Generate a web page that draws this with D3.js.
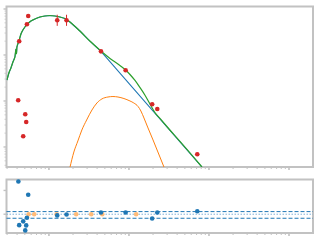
<!DOCTYPE html>
<html>
<head>
<meta charset="utf-8">
<script src="https://cdn.jsdelivr.net/npm/d3@7"></script>
<style>
  body { margin: 0; background: #fff; }
  svg { display: block; }
</style>
</head>
<body>
<div id="chart"></div>
<script>
// observed points (red) with flux errors
var obsX = [0.551, 0.531, 0.425, 1.27, 1.66, 4.47, 9.09, 19.5, 22.6, 71.4, 0.413, 0.506, 0.520, 0.477];
var obsY = [704, 465, 199, 568, 568, 120, 46.5, 8.48, 6.70, 0.694, 10.4, 5.14, 3.50, 1.71];
var obsLo = [704, 465, 199, 430, 430, 120, 46.5, 8.48, 6.70, 0.694, 10.4, 5.14, 3.50, 1.71];
var obsHi = [704, 465, 199, 750, 750, 120, 46.5, 8.48, 6.70, 0.694, 10.4, 5.14, 3.50, 1.71];

// total model (green)
var totalX = [0.299, 0.316, 0.335, 0.355, 0.376, 0.387, 0.393, 0.398, 0.422, 0.447, 0.473, 0.501, 0.546, 0.596,
  0.668, 0.772, 0.891, 1.03, 1.19, 1.37, 1.58, 1.83, 2.44, 3.25, 4.47, 5.79, 7.72, 9.09, 10.3, 11.9, 13.7, 15.8,
  18.3, 21.1, 24.4, 32.5, 43.4, 57.9, 81.7];
var totalY = [28.6, 40.6, 52.2, 70.4, 90.5, 135, 105, 149, 201, 286, 349, 406, 484, 548,
  606, 670, 704, 722, 704, 670, 621, 522, 332, 201, 122, 84.0, 59.1, 47.2, 37.7, 27.9, 19.7, 13.5,
  8.61, 5.62, 4.17, 2.34, 1.32, 0.741, 0.367];

// first component (blue)
var compAX = [0.299, 0.316, 0.335, 0.355, 0.376, 0.387, 0.393, 0.398, 0.422, 0.447, 0.473, 0.501, 0.546, 0.596,
  0.668, 0.772, 0.891, 1.03, 1.19, 1.37, 1.58, 1.83, 2.44, 3.25, 4.47, 81.7];
var compAY = [28.6, 40.6, 52.2, 70.4, 90.5, 135, 105, 149, 201, 286, 349, 406, 484, 548,
  606, 670, 704, 722, 704, 670, 621, 522, 332, 201, 120, 0.367];

// second component (orange)
var compBX = [1.83, 2.05, 2.30, 2.58, 2.96, 3.45, 3.98, 4.60, 5.46, 6.31, 7.29, 8.66, 10.3, 11.5, 13.0,
  14.1, 15.4, 17.3, 20.0, 23.0, 27.6];
var compBY = [0.358, 0.778, 1.35, 2.34, 3.86, 6.37, 9.05, 11.1, 12.2, 12.5, 12.2, 11.3, 10.0, 9.05, 7.59,
  6.06, 4.27, 2.59, 1.42, 0.778, 0.355];

// residuals
var resX = [0.415, 0.551, 0.425, 0.477, 0.531, 0.520, 0.506, 1.27, 1.66, 4.47, 9.09, 19.5, 22.6, 71.4];
var resY = [1.375, 0.82, -0.46, -0.30, -0.15, -0.47, -0.68, -0.05, -0.01, 0.07, 0.07, -0.18, 0.07, 0.125];
var limX = [0.557, 0.655, 1.25, 2.19, 3.38, 4.64, 12.3];
var limY = [0, 0, 0, 0, 0, 0, 0];
var bandLevels = [0.11, 0, -0.17];
var resTicks = [0, 1];

var width = 320, height = 240;
var left = 6.5, right = 313;
var top1 = 6.5, bot1 = 167, top2 = 179.5, bot2 = 233;
var gray = "#c2c2c2";

var svg = d3.select("#chart").append("svg")
  .attr("width", width)
  .attr("height", height);

var x = d3.scaleLog().domain([0.295, 1995]).range([left, right]);
var y = d3.scaleLog().domain([0.367, 1133]).range([bot1, top1]);
var yr = d3.scaleLinear().domain([-0.79, 1.46]).range([bot2, top2]);

svg.append("clipPath").attr("id", "clip1")
  .append("rect").attr("x", left).attr("y", top1)
  .attr("width", right - left).attr("height", bot1 - top1);

// log ticks (major + minor)
function logTicks(scale) {
  var d = scale.domain(), out = [];
  var lo = Math.floor(Math.log10(d[0])), hi = Math.ceil(Math.log10(d[1]));
  for (var e = lo; e <= hi; e++) {
    for (var k = 1; k < 10; k++) {
      var v = k * Math.pow(10, e);
      if (v >= d[0] && v <= d[1]) out.push({v: v, major: k == 1});
    }
  }
  return out;
}

function drawXTicks(yy) {
  svg.append("g").selectAll("line")
    .data(logTicks(x))
    .enter().append("line")
      .attr("x1", function(d) { return x(d.v); })
      .attr("x2", function(d) { return x(d.v); })
      .attr("y1", yy)
      .attr("y2", function(d) { return yy + (d.major ? 3 : 2); })
      .attr("stroke", gray)
      .attr("stroke-width", function(d) { return d.major ? 1.6 : 1; });
}

drawXTicks(bot1);
drawXTicks(bot2);

svg.append("g").selectAll("line")
  .data(logTicks(y))
  .enter().append("line")
    .attr("x1", left)
    .attr("x2", function(d) { return left - (d.major ? 3 : 2); })
    .attr("y1", function(d) { return y(d.v); })
    .attr("y2", function(d) { return y(d.v); })
    .attr("stroke", gray)
    .attr("stroke-width", function(d) { return d.major ? 1.4 : 0.8; });

svg.append("g").selectAll("line")
  .data(resTicks)
  .enter().append("line")
    .attr("x1", left)
    .attr("x2", left - 3)
    .attr("y1", function(d) { return yr(d); })
    .attr("y2", function(d) { return yr(d); })
    .attr("stroke", gray)
    .attr("stroke-width", 1.4);

// frames
[[top1, bot1], [top2, bot2]].forEach(function(p) {
  svg.append("rect")
    .attr("x", left).attr("y", p[0])
    .attr("width", right - left).attr("height", p[1] - p[0])
    .attr("fill", "none")
    .attr("stroke", gray)
    .attr("stroke-width", 2);
});

// model curves
var plot = svg.append("g").attr("clip-path", "url(#clip1)");

var line = d3.line()
  .x(function(d) { return x(d[0]); })
  .y(function(d) { return y(d[1]); });

var smooth = d3.line()
  .curve(d3.curveMonotoneX)
  .x(function(d) { return x(d[0]); })
  .y(function(d) { return y(d[1]); });

plot.append("path")
  .attr("d", smooth(d3.zip(compBX, compBY)))
  .attr("fill", "none").attr("stroke", "#ff7f0e").attr("stroke-width", 1);

plot.append("path")
  .attr("d", line(d3.zip(compAX, compAY)))
  .attr("fill", "none").attr("stroke", "#1f77b4").attr("stroke-width", 1.1);

plot.append("path")
  .attr("d", smooth(d3.zip(totalX, totalY)))
  .attr("fill", "none").attr("stroke", "#2ca02c").attr("stroke-width", 1.2);

// observed points
var obs = obsX.map(function(v, i) { return {x: v, y: obsY[i], lo: obsLo[i], hi: obsHi[i]}; });

plot.append("g").selectAll("line")
  .data(obs.filter(function(d) { return d.hi > d.lo; }))
  .enter().append("line")
    .attr("x1", function(d) { return x(d.x); })
    .attr("x2", function(d) { return x(d.x); })
    .attr("y1", function(d) { return y(d.lo); })
    .attr("y2", function(d) { return y(d.hi); })
    .attr("stroke", "#d62728").attr("stroke-width", 1);

plot.append("g").selectAll("circle")
  .data(obs)
  .enter().append("circle")
    .attr("cx", function(d) { return x(d.x); })
    .attr("cy", function(d) { return y(d.y); })
    .attr("r", 2.3)
    .attr("fill", "#d62728");

// residual panel
var bandStyle = [
  {stroke: "#1f77b4", dash: "4,2"},
  {stroke: "#7fb0d8", dash: "1.5,1.5"},
  {stroke: "#1f77b4", dash: "4,2"}
];

svg.append("g").selectAll("line")
  .data(bandLevels)
  .enter().append("line")
    .attr("x1", left)
    .attr("x2", right)
    .attr("y1", function(d) { return yr(d); })
    .attr("y2", function(d) { return yr(d); })
    .attr("stroke", function(d, i) { return bandStyle[i].stroke; })
    .attr("stroke-dasharray", function(d, i) { return bandStyle[i].dash; })
    .attr("stroke-width", 1);

svg.append("g").selectAll("circle")
  .data(d3.zip(limX, limY))
  .enter().append("circle")
    .attr("cx", function(d) { return x(d[0]); })
    .attr("cy", function(d) { return yr(d[1]); })
    .attr("r", 2.3)
    .attr("fill", "#ffbb78");

svg.append("g").selectAll("circle")
  .data(d3.zip(resX, resY))
  .enter().append("circle")
    .attr("cx", function(d) { return x(d[0]); })
    .attr("cy", function(d) { return yr(d[1]); })
    .attr("r", 2.3)
    .attr("fill", "#1f77b4");
</script>
</body>
</html>
